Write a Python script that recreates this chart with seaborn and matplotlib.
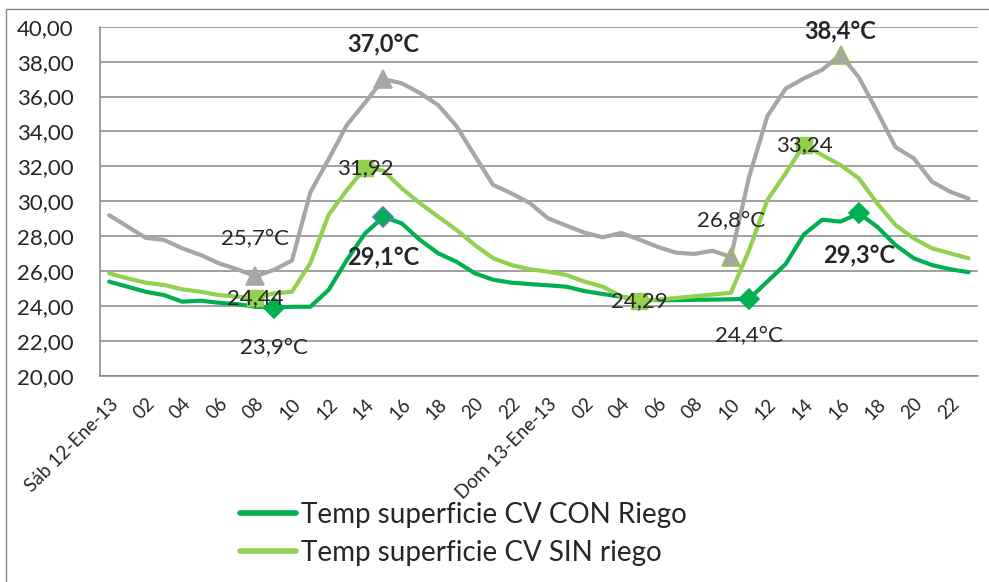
import matplotlib
matplotlib.use("Agg")
import matplotlib.pyplot as plt
from matplotlib.lines import Line2D
from matplotlib.patches import Rectangle
from matplotlib.ticker import MultipleLocator, FixedLocator
import seaborn as sns
import numpy as np

# hourly readings, Sat 12 and Sun 13 Jan 2013 (48 hours)
hours = list(range(48))
tick_labels = (["Sáb 12-Ene-13"] + [f"{h:02d}" for h in range(2, 24, 2)]
               + ["Dom 13-Ene-13"] + [f"{h:02d}" for h in range(2, 24, 2)])

con_riego = [25.39, 25.10, 24.81, 24.62, 24.24, 24.30, 24.18, 24.10, 23.95, 23.90,
             23.95, 23.95, 24.91, 26.63, 28.16, 29.10, 28.73, 27.78, 27.01, 26.53,
             25.87, 25.50, 25.33, 25.25, 25.18, 25.10, 24.85, 24.68, 24.53, 24.35,
             24.33, 24.33, 24.35, 24.36, 24.38, 24.40, 25.40, 26.40, 28.10, 28.94,
             28.83, 29.30, 28.54, 27.49, 26.73, 26.34, 26.10, 25.93]

sin_riego = [25.87, 25.58, 25.33, 25.20, 24.95, 24.81, 24.62, 24.53, 24.44, 24.72,
             24.81, 26.44, 29.21, 30.64, 31.92, 31.75, 30.74, 29.88, 29.11, 28.35,
             27.49, 26.73, 26.34, 26.10, 25.96, 25.77, 25.39, 25.10, 24.55, 24.29,
             24.36, 24.45, 24.55, 24.65, 24.75, 27.20, 30.07, 31.60, 33.24, 32.64,
             32.07, 31.31, 29.88, 28.64, 27.87, 27.30, 27.01, 26.73]

sin_cv = [29.20, 28.55, 27.90, 27.78, 27.30, 26.92, 26.44, 26.10, 25.70, 26.06,
          26.60, 30.50, 32.40, 34.37, 35.65, 37.00, 36.76, 36.20, 35.50, 34.30,
          32.60, 30.93, 30.45, 29.90, 29.02, 28.60, 28.20, 27.93, 28.18, 27.80,
          27.38, 27.05, 26.98, 27.16, 26.80, 31.40, 34.88, 36.45, 37.04, 37.53,
          38.40, 37.10, 35.15, 33.10, 32.46, 31.12, 30.54, 30.15]

# highlighted points (min / max of each day) and their labels
con_idx = [9, 15, 35, 41]
con_txt = ["23,9°C", "29,1°C", "24,4°C", "29,3°C"]
sin_idx = [8, 14, 29, 38]
sin_txt = ["24,44", "31,92", "24,29", "33,24"]
cv_idx = [8, 15, 34, 40]
cv_txt = ["25,7°C", "37,0°C", "26,8°C", "38,4°C"]

c_con = "#00B050"
c_sin = "#92D050"
c_cv = "#A6A6A6"
c_axis = "#868686"

sns.set_style("white")
plt.rcParams['font.family'] = ['Lato', 'DejaVu Sans']

fig = plt.figure(figsize=(9.89, 5.82), dpi=100)
ax = fig.add_axes([100 / 989, 1 - 375.7 / 582, 877.7 / 989, 349 / 582])

sns.lineplot(x=hours, y=con_riego, color=c_con, lw=3, ax=ax, zorder=3)
sns.lineplot(x=hours, y=sin_riego, color=c_sin, lw=3, ax=ax, zorder=3)
sns.lineplot(x=hours, y=sin_cv, color=c_cv, lw=3, ax=ax, zorder=3)

# markers
con_edges = [c_con, "#4F81BD", c_con, c_con]
for i, ec in zip(con_idx, con_edges):
    ax.plot(hours[i], con_riego[i], marker="D", ms=10, color=c_con, mec=ec, mew=1.2, zorder=4)
for i in sin_idx:
    ax.plot(hours[i], sin_riego[i], marker="s", ms=12, color=c_sin, mec=c_sin, zorder=4)
cv_edges = [c_cv, c_cv, "#9BBB59", "#9BBB59"]
for i, ec in zip(cv_idx, cv_edges):
    ax.plot(hours[i], sin_cv[i], marker="^", ms=13, color=c_cv, mec=ec, mew=1.2, zorder=4)

# data labels
con_off = [-29, -29, -27, -30]
con_bold = [False, True, False, True]
for i, t, off, b in zip(con_idx, con_txt, con_off, con_bold):
    ax.annotate(t, (hours[i], con_riego[i]), xytext=(0, off), textcoords="offset points",
                ha="center", va="center", fontsize=17 if b else 16,
                fontweight="bold" if b else "normal", zorder=6)
for i, t in zip(sin_idx, sin_txt):
    ax.annotate(t, (hours[i], sin_riego[i]), xytext=(0, 0), textcoords="offset points",
                ha="center", va="center", fontsize=16, zorder=6)
cv_off = [27, 25, 26, 17]
cv_bold = [False, True, False, True]
for i, t, off, b in zip(cv_idx, cv_txt, cv_off, cv_bold):
    ax.annotate(t, (hours[i], sin_cv[i]), xytext=(0, off), textcoords="offset points",
                ha="center", va="center", fontsize=17 if b else 16,
                fontweight="bold" if b else "normal", zorder=6)

# axes styling
ax.set_xlim(-0.5, 47.5)
ax.set_ylim(20, 40)
ax.yaxis.set_major_locator(MultipleLocator(2))
ax.set_yticklabels([f"{v:.2f}".replace(".", ",") for v in ax.get_yticks()])
ax.grid(axis="y", color=c_axis, lw=1.1)
ax.set_axisbelow(True)
for s in ["top", "right"]:
    ax.spines[s].set_visible(False)
for s in ["left", "bottom"]:
    ax.spines[s].set_color(c_axis)
    ax.spines[s].set_linewidth(1.1)

ax.set_xticks(hours[::2])
ax.set_xticklabels(tick_labels, rotation=45, ha="right", va="top", rotation_mode="anchor",
                   fontsize=13.5)
ax.xaxis.set_minor_locator(FixedLocator(np.arange(-0.5, 48, 1)))
ax.tick_params(axis="x", which="major", length=0, pad=14)
ax.tick_params(axis="x", which="minor", length=5, width=1, color=c_axis, direction="out")
ax.tick_params(axis="y", length=6, width=1, color=c_axis, direction="out", pad=13, labelsize=16)
ax.set_xlabel("")
ax.set_ylabel("")

# legend below the chart
handles = [Line2D([], [], color=c_con, lw=4), Line2D([], [], color=c_sin, lw=4)]
fig.legend(handles, ["Temp superficie CV CON Riego", "Temp superficie CV SIN riego"],
           loc="upper left", bbox_to_anchor=(240 / 989, 1 - 502 / 582), frameon=False,
           fontsize=20, handlelength=2.0, handletextpad=0.2, labelspacing=0.42,
           borderpad=0, borderaxespad=0)

# outer chart frame
fig.add_artist(Rectangle((6 / 989, -0.1), 1.2, 1.1 - 8.5 / 582, transform=fig.transFigure,
                         fill=False, edgecolor=c_axis, lw=1))

fig.savefig("out.png", dpi=100)
